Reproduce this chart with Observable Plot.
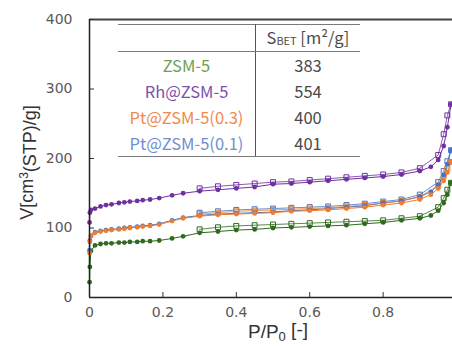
<!DOCTYPE html>
<html>
<head>
<meta charset="utf-8">
<script src="https://cdn.jsdelivr.net/npm/d3@7"></script>
<script src="https://cdn.jsdelivr.net/npm/@observablehq/plot@0.6"></script>
<style>
  html, body { margin: 0; padding: 0; background: #fff; }
  #wrap { position: relative; width: 452px; height: 346px; overflow: hidden; }
  #tbl { position: absolute; left: 118px; top: 24px; width: 242px; border-collapse: collapse;
         font-family: "Noto Sans CJK JP", "Noto Sans", sans-serif; font-size: 16.5px; color: #4a4a4a; }
  #tbl td { padding: 0; text-align: center; line-height: 20px; }
  #tbl tr.hd td { height: 26px; border-top: 1.5px solid #7a7a7a; border-bottom: 1.5px solid #7a7a7a; }
  #tbl tr.rw td { height: 26px; }
  #tbl tr.last td { border-bottom: 1.5px solid #7a7a7a; }
  #tbl td.c1 { width: 137px; border-right: 1px solid #555; }
  #tbl sub { font-size: 11px; vertical-align: -1px; }
</style>
</head>
<body>
<div id="wrap"></div>
<script>
// ---- data ----
const seriesNames = ["ZSM-5", "Rh@ZSM-5", "Pt@ZSM-5(0.3)", "Pt@ZSM-5(0.1)"];
const sbetValues = [383, 554, 400, 401];

const pAds = [0.0002, 0.001, 0.004, 0.015, 0.03, 0.045, 0.06, 0.08, 0.095, 0.11, 0.13, 0.145, 0.165, 0.19,
              0.225, 0.255, 0.3, 0.35, 0.4, 0.45, 0.5, 0.55, 0.6, 0.65, 0.7, 0.75, 0.8, 0.85, 0.9, 0.93,
              0.95, 0.965, 0.975, 0.985];
const pDes = [0.985, 0.975, 0.965, 0.95, 0.9, 0.85, 0.8, 0.75, 0.7, 0.65, 0.6, 0.55, 0.5, 0.45, 0.4, 0.35, 0.3];

const zsmAds  = [22, 44, 67, 75, 77, 78, 78, 79, 79, 80, 80, 81, 81, 82, 85, 88, 93, 95, 97, 98, 100, 101, 102,
                 103, 104, 106, 108, 111, 114, 118, 125, 136, 148, 165];
const rhAds   = [108, 122, 126, 128, 131, 133, 134, 136, 137, 138, 139, 140, 141, 143, 147, 150, 153, 155, 157,
                 159, 163, 164, 166, 168, 170, 172, 174, 177, 182, 188, 198, 218, 245, 278];
const pt03Ads = [64, 80, 88, 93, 95, 96, 97, 98, 99, 100, 101, 102, 103, 105, 110, 114, 117, 119, 120, 121, 122,
                 124, 125, 126, 128, 130, 133, 136, 141, 148, 157, 168, 180, 195];
const pt01Ads = [68, 82, 89, 94, 96, 97, 98, 99, 100, 101, 102, 103, 104, 106, 111, 115, 118, 120, 121, 122, 123,
                 125, 126, 128, 130, 132, 136, 139, 145, 152, 162, 176, 192, 212];

const zsmDes  = [165, 155, 143, 130, 117, 114, 111, 110, 109, 108, 107, 106, 105, 104, 103, 101, 98];
const rhDes   = [278, 262, 235, 205, 186, 180, 177, 175, 173, 171, 169, 167, 166, 164, 162, 160, 157];
const pt03Des = [195, 186, 175, 161, 145, 139, 136, 133, 131, 129, 128, 127, 126, 125, 124, 122, 120];
const pt01Des = [212, 196, 182, 166, 148, 141, 138, 135, 133, 131, 130, 129, 128, 127, 126, 124, 122];

const xTicks = [0, 0.2, 0.4, 0.6, 0.8];
const yTicks = [0, 100, 200, 300, 400];

const markColors  = ["#2f6a1e", "#7030a0", "#ed7d31", "#4472c4"];
const labelColors = ["#6f9f52", "#7b52ad", "#f08a4b", "#6f8fcf"];

const yLabel = "V[cm3(STP)/g]";
const xLabel = "P/P0 [-]";

// ---- build rows ----
const adsSets = [zsmAds, rhAds, pt03Ads, pt01Ads];
const desSets = [zsmDes, rhDes, pt03Des, pt01Des];
const drawOrder = [0, 3, 2, 1];
const adsRows = [], desRows = [];
for (const i of drawOrder) {
  adsSets[i].forEach((v, j) => adsRows.push({p: pAds[j], v, s: seriesNames[i]}));
  desSets[i].forEach((v, j) => desRows.push({p: pDes[j], v, s: seriesNames[i]}));
}

const colorScale = {domain: seriesNames, range: markColors};

const chart = Plot.plot({
  width: 452,
  height: 346,
  marginLeft: 89,
  marginRight: 0,
  marginTop: 19,
  marginBottom: 49,
  style: {fontFamily: "DejaVu Sans, sans-serif", fontSize: "14px", color: "#595959", background: "transparent"},
  x: {domain: [0, 0.989]},
  y: {domain: [0, 400]},
  color: colorScale,
  marks: [
    Plot.ruleY([400], {stroke: "#444", strokeWidth: 1.8}),
    Plot.line(adsRows, {x: "p", y: "v", z: "s", stroke: "s", strokeWidth: 1}),
    Plot.line(desRows, {x: "p", y: "v", z: "s", stroke: "s", strokeWidth: 1, strokeOpacity: 0.8}),
    Plot.dot(desRows, {x: "p", y: "v", stroke: "s", symbol: "square", r: 2.8, fill: "none", strokeWidth: 1}),
    Plot.dot(adsRows, {x: "p", y: "v", fill: "s", r: 2.4}),
    Plot.axisX({ticks: xTicks, tickSize: -5, tickPadding: 15, tickFormat: d => String(d), label: null, stroke: "#333"}),
    Plot.axisY({ticks: yTicks, tickSize: -5, tickPadding: 22, tickFormat: d => String(d), label: null, stroke: "#333"}),
    Plot.ruleX([0], {stroke: "#222", strokeWidth: 1.5}),
    Plot.ruleY([0], {stroke: "#222", strokeWidth: 1.5}),
    Plot.text([yLabel], {frameAnchor: "left", rotate: -90, dx: -62, dy: 4, fontSize: 18,
      fontFamily: "Liberation Sans, Arial, sans-serif", fill: "#333", textAnchor: "middle"}),
    Plot.text([xLabel], {frameAnchor: "bottom", dy: 40, dx: 7, fontSize: 19,
      fontFamily: "Liberation Sans, Arial, sans-serif", fill: "#333", textAnchor: "middle"})
  ]
});

// superscript / subscript in axis titles
d3.select(chart).selectAll("text").each(function () {
  const t = this.textContent;
  if (t === yLabel) {
    const s = d3.select(this).text("");
    s.append("tspan").text("V[cm");
    s.append("tspan").attr("dy", "-0.45em").attr("font-size", "12px").text("3");
    s.append("tspan").attr("dy", "0.45em").text("(STP)/g]");
  } else if (t === xLabel) {
    const s = d3.select(this).text("");
    s.append("tspan").text("P/P");
    s.append("tspan").attr("dy", "0.3em").attr("font-size", "13px").text("0");
    s.append("tspan").attr("dy", "-0.3em").text(" [-]");
  }
});

const wrap = document.getElementById("wrap");
wrap.appendChild(chart);

// ---- S_BET table ----
const tbl = document.createElement("table");
tbl.id = "tbl";
let html = '<tr class="hd"><td class="c1"></td><td>S<sub>BET</sub> [m²/g]</td></tr>';
seriesNames.forEach((n, i) => {
  const cls = i === seriesNames.length - 1 ? "rw last" : "rw";
  html += `<tr class="${cls}"><td class="c1" style="color:${labelColors[i]}">${n}</td><td>${sbetValues[i]}</td></tr>`;
});
tbl.innerHTML = html;
wrap.appendChild(tbl);
</script>
</body>
</html>
